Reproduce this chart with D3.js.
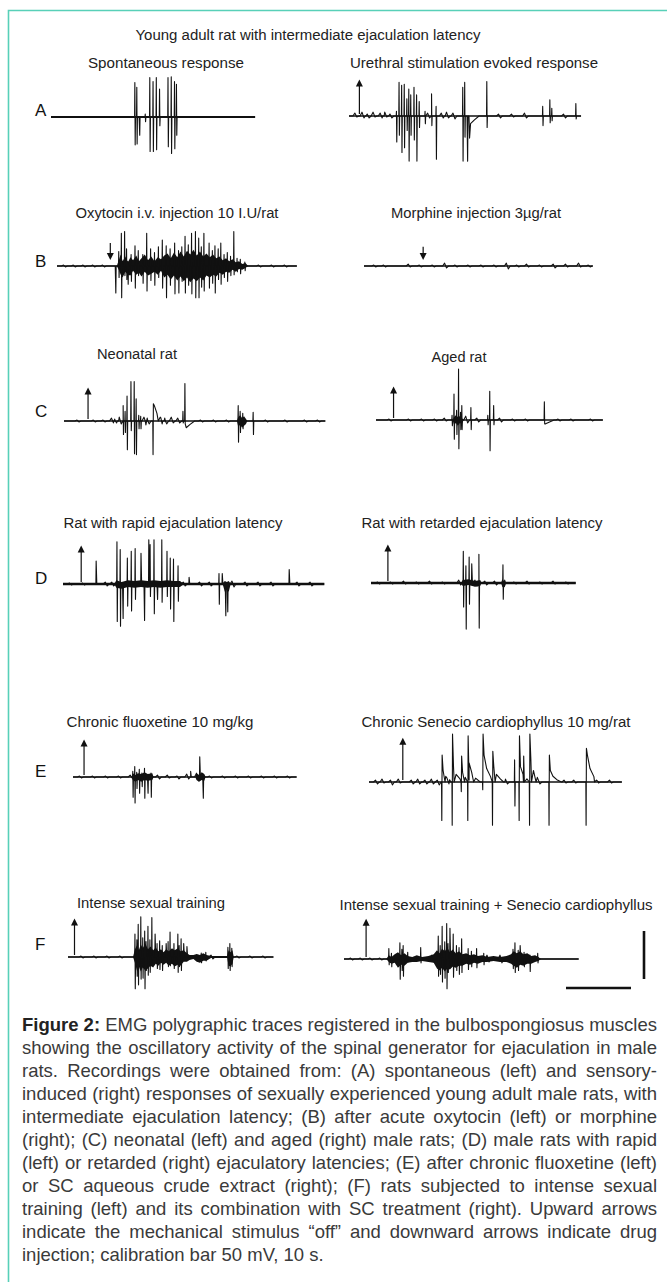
<!DOCTYPE html>
<html>
<head>
<meta charset="utf-8">
<script src="https://cdn.jsdelivr.net/npm/d3@7"></script>
<style>
  body { margin: 0; background: #fff; }
  svg { display: block; }
</style>
</head>
<body>
<div id="fig"></div>
<script>
// ---- data ----------------------------------------------------------------
// spikes: [time (s), peak up (mV), peak down (mV), optional decay tail (mV)]
// bursts: envelope of dense activity [time (s), upper (mV), lower (mV)]
const mainTitle = "Young adult rat with intermediate ejaculation latency";
const rowLetters = ["A", "B", "C", "D", "E", "F"];
const panelTitles = [
  "Spontaneous response", "Urethral stimulation evoked response",
  "Oxytocin i.v. injection 10 I.U/rat", "Morphine injection 3µg/rat",
  "Neonatal rat", "Aged rat",
  "Rat with rapid ejaculation latency", "Rat with retarded ejaculation latency",
  "Chronic fluoxetine 10 mg/kg", "Chronic Senecio cardiophyllus 10 mg/rat",
  "Intense sexual training", "Intense sexual training + Senecio cardiophyllus"
];
const durations = [31.4, 35.7, 36.9, 35.2, 40.2, 34.9, 40.2, 31.5, 34.4, 38.9, 31.6, 36.1];
// [time (s), direction, length (mV)]
const arrows = [null, [1.6, "up", 38], [8.2, "down", 24], [9.1, "down", 20],
  [3.7, "up", 35], [2.7, "up", 35], [2.8, "up", 40], [2.6, "up", 40],
  [1.7, "up", 39], [5.2, "up", 46], [1.0, "up", 40], [3.4, "up", 42]];

const spikesA1 = [[12.9,36,-29],[13.2,31,-28],[13.6,0,-19],[14.5,3,-5],[15.2,41,-36],[15.7,37,-36],
  [16.2,41,-34],[16.7,29,-9],[18.0,41,-31],[18.5,42,-38],[19.0,37,-33],[19.3,34,-19]];
const spikesA2 = [[0.9,3,-1],[2.0,4,-2],[2.8,2,-2],[3.7,4,-1],[4.8,3,-2],[5.5,4,-1],[6.3,2,-2],
  [7.3,5,-27],[7.7,35,-20],[8.1,32,-38],[8.5,33,-33],[8.9,18,-15],[9.2,28,-47],[9.5,22,-20],
  [10.0,30,-25],[10.4,22,-47],[10.8,15,-12],[11.7,5,-8],[12.1,3,-2],[12.7,23,-10],[13.4,10,-45],
  [14.2,3,-2],[15.0,4,-2],[16.0,3,-3],[17.5,30,-47],[17.8,35,-22],[18.2,0,-47],[18.5,0,-23,-8],
  [21.2,36,-12],[23,2,-2],[25,2,-1],[27,3,-2],[29.8,10,-10],[30.9,17,-7],[31.2,8,-5],[33,2,-2],[34.9,13,-3]];
const spikesB1 = [[1,1,-1],[2.5,1,-1],[4,1,-1],[5.5,1,-1],[7,1,-1],
  [9.0,0,-28],[9.5,15,-12],[9.9,34,-33],[10.4,36,-10],[10.7,18,-14],[10.9,5,-19],[11.4,12,-16],
  [12.0,21,-23],[12.5,16,-10],[13.2,12,-18],[13.8,34,-26],[14.4,18,-15],[15.0,14,-20],[15.6,20,-12],
  [16.2,27,-23],[16.8,21,-33],[17.4,18,-20],[18.1,24,-29],[18.7,16,-28],[19.2,20,-16],[19.7,31,-28],
  [20.2,22,-20],[20.7,34,-29],[21.3,36,-33],[21.8,29,-33],[22.2,20,-22],[22.6,34,-26],[23.4,24,-23],
  [23.9,16,-18],[24.3,21,-28],[24.8,18,-14],[25.2,24,-19],[25.7,12,-12],[26.2,14,-16],[26.7,10,-10],
  [27.2,36,-9],[27.7,8,-6],[28.2,7,-8],[28.9,4,-5],[31,1,-1],[33,1,-1],[35,1,-1]];
const burstB1 = [[9.2,0,0],[9.5,6,-4],[9.8,12,-9],[10.1,5,-12],[10.5,10,-6],[10.9,4,-9],[11.3,9,-10],
  [11.7,6,-5],[12.2,11,-9],[12.6,5,-7],[13.0,8,-11],[13.5,12,-6],[14.0,6,-10],[14.5,10,-8],[15.0,5,-6],
  [15.5,9,-9],[16.0,7,-5],[16.5,11,-12],[17.0,13,-9],[17.5,8,-14],[18.0,14,-10],[18.5,9,-15],[19.0,15,-11],
  [19.5,10,-16],[20.0,16,-12],[20.5,12,-17],[21.0,17,-13],[21.5,11,-16],[22.0,15,-12],[22.5,10,-15],
  [23.0,13,-10],[23.5,9,-12],[24.0,12,-9],[24.5,8,-11],[25.0,10,-7],[25.5,6,-9],[26.0,8,-6],[26.5,5,-7],
  [27.0,7,-4],[27.5,4,-6],[28.0,5,-3],[28.5,2,-4],[29.0,3,-2],[29.4,0,0]];
const spikesB2 = [[1.5,1,-1],[3,1,-1],[6.8,2,-1],[8.5,1,-1],[10.5,1,-1],[12.4,3,-2],[14,1,-1],[16,1,-1],
  [18,1,-1],[20,1,-1],[21.9,3,-3],[23.5,1,-1],[25,2,-1],[27,1,-1],[29.1,2,-2],[31,2,-1],[33.0,3,-1],[34.5,1,-1]];
const spikesC1 = [[2,1,-1],[4.5,1,-1],[6,1,-1],[7.3,3,-2],[7.8,2,-2],[8.5,4,-3],[9.1,16,-14],[9.4,10,-12],
  [9.7,26,-30],[10.3,41,-10],[10.8,41,-34],[11.1,23,-35],[11.5,6,-8],[11.8,5,-8],[12.3,4,-4],[12.8,3,-3],
  [13.7,18,-35,8],[14.8,4,-3],[15.5,3,-3],[16.5,4,-2],[17.5,3,-2],[18.3,10,-2],[18.6,39,-3,-7],
  [21,1,-1],[23,1,-1],[25,1,-1],[26.8,16,-22],[27.1,10,-12],[27.5,8,-8],[29.1,9,-14],[31,1,-1],
  [34,1,-1],[37,1,-1],[39,1,-1]];
const burstC1 = [[26.6,0,0],[26.8,4,-6],[27.1,6,-4],[27.4,3,-7],[27.7,5,-5],[28.0,2,-3],[28.2,0,0]];
const spikesC2 = [[2,1,-1],[5,1,-1],[7,1,-1],[9,1,-1],[10.5,2,-1],[11.7,5,-6],[12.0,27,-20],[12.4,10,-15],
  [12.7,53,-30],[13.0,8,-10],[13.2,15,-10],[13.8,4,-3],[14.6,13,-10],[15.5,2,-2],[17.2,5,-5],[17.5,30,-32],
  [18.1,15,-5],[19,2,-2],[21,1,-1],[23,1,-1],[25.9,19,-4,-4],[28,1,-1],[30,1,-1],[33,1,-1]];
const burstC2 = [[11.8,0,0],[12.0,3,-5],[12.3,5,-3],[12.6,3,-6],[12.9,4,-3],[13.2,2,-4],[13.5,0,0]];
const spikesD1 = [[1,1,-1],[3,1,-1],[5.1,24,0],[6.5,2,-2],[7.5,2,-2],[8.3,44,-39],[8.8,36,-44],[9.2,0,-36],
  [9.9,27,-23],[10.5,34,-28],[11.1,37,-16],[12.0,32,0],[12.5,0,-38],[13.2,46,0],[13.4,41,-13],[14.0,46,-31],
  [14.5,0,-16],[15.2,46,-19],[16.0,34,-13],[16.5,27,-26],[17.0,26,-39],[17.7,19,-18],[18.5,2,-2],[19.4,7,0],
  [21,2,-2],[22.5,2,-2],[24.0,11,-21],[24.5,11,0],[25.0,0,-33],[25.3,0,-29],[26,3,-3],[28,2,-2],[30,2,-2],
  [32,2,-2],[34.8,15,0],[36,2,-2],[38,2,-2]];
const burstD1 = [[7.9,0,0],[8.2,4,-4],[9,2,-5],[10,4,-3],[11,3,-4],[12,4,-3],[13,3,-4],[14,4,-3],[15,3,-4],
  [16,4,-3],[17,3,-3],[18,3,-3],[18.4,1,-1],[24.6,1,-1],[24.9,3,-8],[25.2,2,-6],[25.5,3,-8],[25.8,0,0]];
const spikesD2 = [[1,1,-1],[3,1,-1],[5,2,-1],[7,1,-1],[9,2,-1],[11,1,-1],[13.5,3,-2],[14.2,33,-25],
  [14.6,18,-48],[15.1,27,-22],[15.5,20,0],[16.0,3,-3],[16.6,30,-47],[17.5,2,-2],[19,2,-2],[20.3,19,-17],
  [22,1,-1],[24,2,-1],[26,1,-1],[28,2,-1],[30,1,-1]];
const burstD2 = [[13.9,0,0],[14.1,3,-3],[15,4,-2],[16,2,-4],[16.8,3,-3],[17,0,0],[20.0,0,0],[20.2,4,-4],
  [20.4,2,-5],[20.6,4,-4],[20.8,0,0]];
const spikesE1 = [[1,1,-1],[3,1,-1],[5,1,-1],[7,1,-1],[8.8,2,-1],[9.2,6,-21],[9.5,11,-27],[9.8,5,-12],
  [10.2,8,-17],[10.6,4,-10],[11.0,9,-22],[11.5,0,-17],[12.0,4,-21],[13,2,-2],[14.5,2,-1],[16,1,-2],
  [17.5,3,-2],[18.1,6,0],[19.0,4,-4],[19.5,21,0],[20.0,0,-22],[21,1,-1],[23,1,-1],[25,1,-1],[27,1,-1],
  [29,1,-1],[31,1,-1],[33,1,-1]];
const burstE1 = [[9.0,0,0],[9.2,4,-3],[9.6,2,-5],[10,4,-3],[10.5,3,-5],[11,5,-3],[11.5,3,-4],[12.2,4,-3],
  [12.4,0,0],[18.8,0,0],[19.0,4,-3],[19.4,2,-5],[19.8,5,-3],[20.2,3,-4],[20.4,0,0]];
const spikesE2 = [[1,2,-2],[2,3,-1],[3.3,2,-3],[4.5,3,-1],[6.5,2,-2],[7.5,3,-2],[8.6,2,-2],[9.6,3,-2],
  [10.5,2,-3],[11.2,28,-40,6],[12.0,4,-2],[12.8,50,-45,8],[14.2,27,-10,5],[15.2,48,-40,10],
  [17.5,50,-8,14],[19.0,32,-45,8],[21,3,-2],[22.4,23,-25],[23.1,48,-40,8],[23.8,27,0],
  [24.7,50,-45,12],[26,3,-2],[27.7,28,-45,6],[30,2,-1],[31.5,2,-1],[33.4,35,-45,14],[35,2,-1],[37,2,-1]];
const spikesF1 = [[2,1,-1],[4,1,-1],[6,1,-1],[8,1,-1],[10.3,24,-33],[10.6,18,-20],[10.8,34,-29],
  [11.2,42,-23],[11.5,20,-22],[11.8,27,-33],[12.0,16,-14],[12.3,32,-19],[12.6,18,-16],[12.9,41,-9],
  [13.4,24,0],[13.7,14,-12],[14.1,17,-13],[14.5,12,-14],[15.1,14,0],[15.4,16,-10],[15.7,26,-9],
  [16.3,14,-12],[16.9,24,-16],[17.1,12,-10],[17.4,19,-14],[17.8,14,0],[18.3,11,0],[20.5,4,-6],
  [21.2,5,-4],[22,2,-2],[24.6,10,-12],[24.9,14,-14],[25.2,9,-10],[26,1,-1],[28,1,-1],[30,1,-1]];
const burstF1 = [[10.0,0,0],[10.3,8,-6],[10.6,12,-14],[10.9,7,-10],[11.2,13,-15],[11.5,9,-11],[11.9,14,-14],
  [12.3,8,-12],[12.7,11,-9],[13.1,7,-11],[13.5,10,-7],[13.9,6,-9],[14.3,8,-6],[14.7,5,-8],[15.1,8,-6],
  [15.5,6,-9],[16.0,9,-7],[16.4,7,-10],[16.9,9,-8],[17.3,6,-9],[17.8,7,-5],[18.3,4,-5],[18.7,2,-3],
  [19.3,2,-2],[19.8,3,-5],[20.3,2,-6],[20.8,4,-4],[21.3,2,-4],[22.0,1,-1],[24.5,1,-1],[24.7,7,-9],
  [25.0,5,-10],[25.3,7,-7],[25.5,0,0]];
const spikesF2 = [[1,1,-1],[2.5,1,-1],[4,1,-1],[5.5,1,-1],[6.9,11,-6],[7.3,6,-8],[8.6,17,-21],[8.9,10,-12],
  [9.1,14,-18],[9.8,7,-3],[11.8,12,-4],[13.5,4,-3],[14.5,24,-18],[14.8,14,-16],[15.1,34,-24],[15.5,18,-20],
  [15.8,37,-31],[16.0,16,-14],[16.3,32,0],[16.8,26,-19],[17.3,14,-12],[17.7,12,-16],[18.1,21,-14],
  [19.1,11,-11],[19.6,8,-8],[20.4,11,-9],[21.5,6,-6],[22,4,-3],[24,4,-4],[26.0,10,-10],[26.3,17,-14],
  [26.8,9,-12],[27.1,14,0],[27.7,7,-8],[28.6,4,-13],[29.8,6,-4]];
const burstF2 = [[6.5,0,0],[6.9,4,-3],[7.3,2,-5],[7.8,5,-4],[8.3,7,-9],[8.8,4,-6],[9.3,6,-7],[9.8,3,-4],
  [10.5,2,-3],[11.2,4,-3],[12,2,-2],[13,3,-3],[13.8,5,-4],[14.3,9,-10],[14.7,6,-12],[15.1,11,-9],
  [15.5,8,-13],[15.9,12,-10],[16.3,7,-11],[16.7,10,-8],[17.2,6,-9],[17.7,8,-7],[18.2,5,-7],[18.8,6,-5],
  [19.4,4,-6],[20,5,-4],[20.6,3,-5],[21.3,4,-3],[22,2,-3],[23,3,-2],[24,2,-3],[25,3,-3],[25.7,5,-5],
  [26.1,8,-7],[26.6,6,-9],[27.1,8,-6],[27.6,5,-7],[28.2,6,-5],[28.8,3,-5],[29.4,4,-3],[29.9,2,-2],[30.3,0,0]];

const spikeSets = [spikesA1, spikesA2, spikesB1, spikesB2, spikesC1, spikesC2,
  spikesD1, spikesD2, spikesE1, spikesE2, spikesF1, spikesF2];
const burstSets = [null, null, burstB1, null, burstC1, burstC2, burstD1, burstD2, burstE1, null, burstF1, burstF2];

const calibration = { mV: 50, s: 10 };

const captionLines = [
  ["Figure 2:", " EMG polygraphic traces registered in the bulbospongiosus muscles"],
  ["", "showing the oscillatory activity of the spinal generator for ejaculation in male"],
  ["", "rats. Recordings were obtained from: (A) spontaneous (left) and sensory-"],
  ["", "induced (right) responses of sexually experienced young adult male rats, with"],
  ["", "intermediate ejaculation latency; (B) after acute oxytocin (left) or morphine"],
  ["", "(right); (C) neonatal (left) and aged (right) male rats; (D) male rats with rapid"],
  ["", "(left) or retarded (right) ejaculatory latencies; (E) after chronic fluoxetine (left)"],
  ["", "or SC aqueous crude extract (right); (F) rats subjected to intense sexual"],
  ["", "training (left) and its combination with SC treatment (right). Upward arrows"],
  ["", "indicate the mechanical stimulus \u201coff\u201d and downward arrows indicate drug"],
  ["", "injection; calibration bar 50 mV, 10 s."]
];

// ---- layout ----------------------------------------------------------------
const width = 667, height = 1282;
const panelX0 = [51, 349, 57, 364, 64, 376, 63, 371, 73, 369, 68, 344];
const panelBase = [117, 116, 266, 266, 421, 420, 584, 583, 777, 782, 957, 959];
const baseStroke = [1.8, 1.7, 1.4, 1.3, 1.4, 1.6, 2.4, 2.4, 1.7, 1.6, 1.6, 1.6];
const titlePos = [[166,63,156],[474,63,248],[177,213,203],[476,213,170],[137,354,80],[459,357,55],
  [173,523,219],[482,523,241],[160,722,187],[496,722,269],[151,903,148],[496,905,313]];
const letterY = [110, 261, 411, 578, 771, 944];

const svg = d3.select("#fig").append("svg")
  .attr("width", width)
  .attr("height", height);

// frame
svg.append("path")
  .attr("d", "M8.5," + height + "V10.5H" + width)
  .attr("fill", "none")
  .attr("stroke", "#58d0b8")
  .attr("stroke-width", 1.6);

const tScale = d3.scaleLinear().domain([0, 10]).range([0, 65]);
const aScale = d3.scaleLinear().domain([0, 50]).range([0, 48]);
const labelFont = "14px 'Liberation Sans', Arial, sans-serif";

svg.append("text")
  .attr("x", 308).attr("y", 40)
  .attr("text-anchor", "middle")
  .attr("textLength", 345).attr("lengthAdjust", "spacingAndGlyphs")
  .style("font", labelFont)
  .attr("fill", "#222")
  .text(mainTitle);

rowLetters.forEach((l, i) => {
  svg.append("text")
    .attr("x", 35).attr("y", letterY[i] + 6)
    .style("font", "17px 'Liberation Sans', Arial, sans-serif")
    .attr("fill", "#111")
    .text(l);
});

function buildTrace(spikes, dur) {
  const pts = [[0, 0]];
  spikes.forEach(([t, up, down, tail]) => {
    const small = Math.max(up, -down) <= 4;
    if (small) {
      // low-level baseline noise: gentle wiggle
      pts.push([t - 0.3, 0], [t, up], [t + 0.3, down], [t + 0.6, 0]);
    } else if (tail > 0) {
      // down-stroke, sharp rise, slow decay
      pts.push([t - 0.04, 0]);
      if (down) pts.push([t, down]);
      pts.push([t + 0.05, up], [t + 0.2, tail * 2], [t + 0.6, tail], [t + 1.2, tail * 0.4], [t + 1.9, 0]);
    } else if (tail < 0) {
      pts.push([t - 0.04, 0]);
      if (up) pts.push([t, up]);
      pts.push([t + 0.05, down], [t + 0.2, tail], [t + 0.8, tail * 0.5], [t + 1.5, 0]);
    } else {
      pts.push([t - 0.04, 0]);
      if (up) pts.push([t, up]);
      if (down) pts.push([t + 0.05, down]);
      pts.push([t + 0.1, 0]);
    }
  });
  pts.push([dur, 0]);
  return pts.sort((a, b) => a[0] - b[0]);
}

panelTitles.forEach((title, i) => {
  const [cx, cy, w] = titlePos[i];
  svg.append("text")
    .attr("x", cx).attr("y", cy + 5)
    .attr("text-anchor", "middle")
    .attr("textLength", w).attr("lengthAdjust", "spacingAndGlyphs")
    .style("font", labelFont)
    .attr("fill", "#222")
    .text(title);

  const x0 = panelX0[i], base = panelBase[i];
  const x = d3.scaleLinear().domain([0, durations[i]])
    .range([x0, x0 + tScale(durations[i])]);
  const y = v => base - aScale(v);
  const g = svg.append("g");

  // thick baseline underneath
  g.append("line")
    .attr("x1", x(0)).attr("x2", x(durations[i]))
    .attr("y1", base).attr("y2", base)
    .attr("stroke", "#111")
    .attr("stroke-width", baseStroke[i]);

  if (burstSets[i]) {
    g.append("path")
      .datum(burstSets[i])
      .attr("d", d3.area()
        .x(d => x(d[0]))
        .y0(d => y(d[1]))
        .y1(d => y(d[2])))
      .attr("fill", "#111");
  }

  g.append("path")
    .datum(buildTrace(spikeSets[i], durations[i]))
    .attr("d", d3.line().x(d => x(d[0])).y(d => y(d[1])))
    .attr("fill", "none")
    .attr("stroke", "#111")
    .attr("stroke-width", 1.1)
    .attr("stroke-linejoin", "round");

  const a = arrows[i];
  if (a) {
    const ax = x(a[0]);
    const top = base - aScale(a[2]);
    if (a[1] === "up") {
      g.append("line")
        .attr("x1", ax).attr("x2", ax)
        .attr("y1", base - 2).attr("y2", top + 5)
        .attr("stroke", "#111").attr("stroke-width", 1.2);
      g.append("path")
        .attr("d", `M${ax - 3.5},${top + 7}L${ax},${top}L${ax + 3.5},${top + 7}Z`)
        .attr("fill", "#111");
    } else {
      const tip = base - 6;
      g.append("line")
        .attr("x1", ax).attr("x2", ax)
        .attr("y1", top).attr("y2", tip - 5)
        .attr("stroke", "#111").attr("stroke-width", 1.2);
      g.append("path")
        .attr("d", `M${ax - 3.5},${tip - 7}L${ax},${tip}L${ax + 3.5},${tip - 7}Z`)
        .attr("fill", "#111");
    }
  }
});

// calibration bars
svg.append("line")
  .attr("x1", 644).attr("x2", 644)
  .attr("y1", 979).attr("y2", 979 - aScale(calibration.mV))
  .attr("stroke", "#111").attr("stroke-width", 2.6);
svg.append("line")
  .attr("x1", 566).attr("x2", 566 + tScale(calibration.s))
  .attr("y1", 988).attr("y2", 988)
  .attr("stroke", "#111").attr("stroke-width", 2.6);

// caption, justified by word spacing
const capLeft = 22, capWidth = 635;
captionLines.forEach((parts, i) => {
  const t = svg.append("text")
    .attr("x", capLeft).attr("y", 1031 + i * 23)
    .style("font", "18.5px 'Liberation Sans', Arial, sans-serif")
    .attr("fill", "#3a3a3a");
  if (parts[0]) t.append("tspan").attr("font-weight", "bold").attr("fill", "#222").text(parts[0]);
  t.append("tspan").text(parts[1]);
  if (i < captionLines.length - 1) {
    const natural = t.node().getComputedTextLength();
    const spaces = (parts[0] + parts[1]).split(" ").length - 1;
    t.style("word-spacing", ((capWidth - natural) / spaces) + "px");
  }
});
</script>
</body>
</html>
